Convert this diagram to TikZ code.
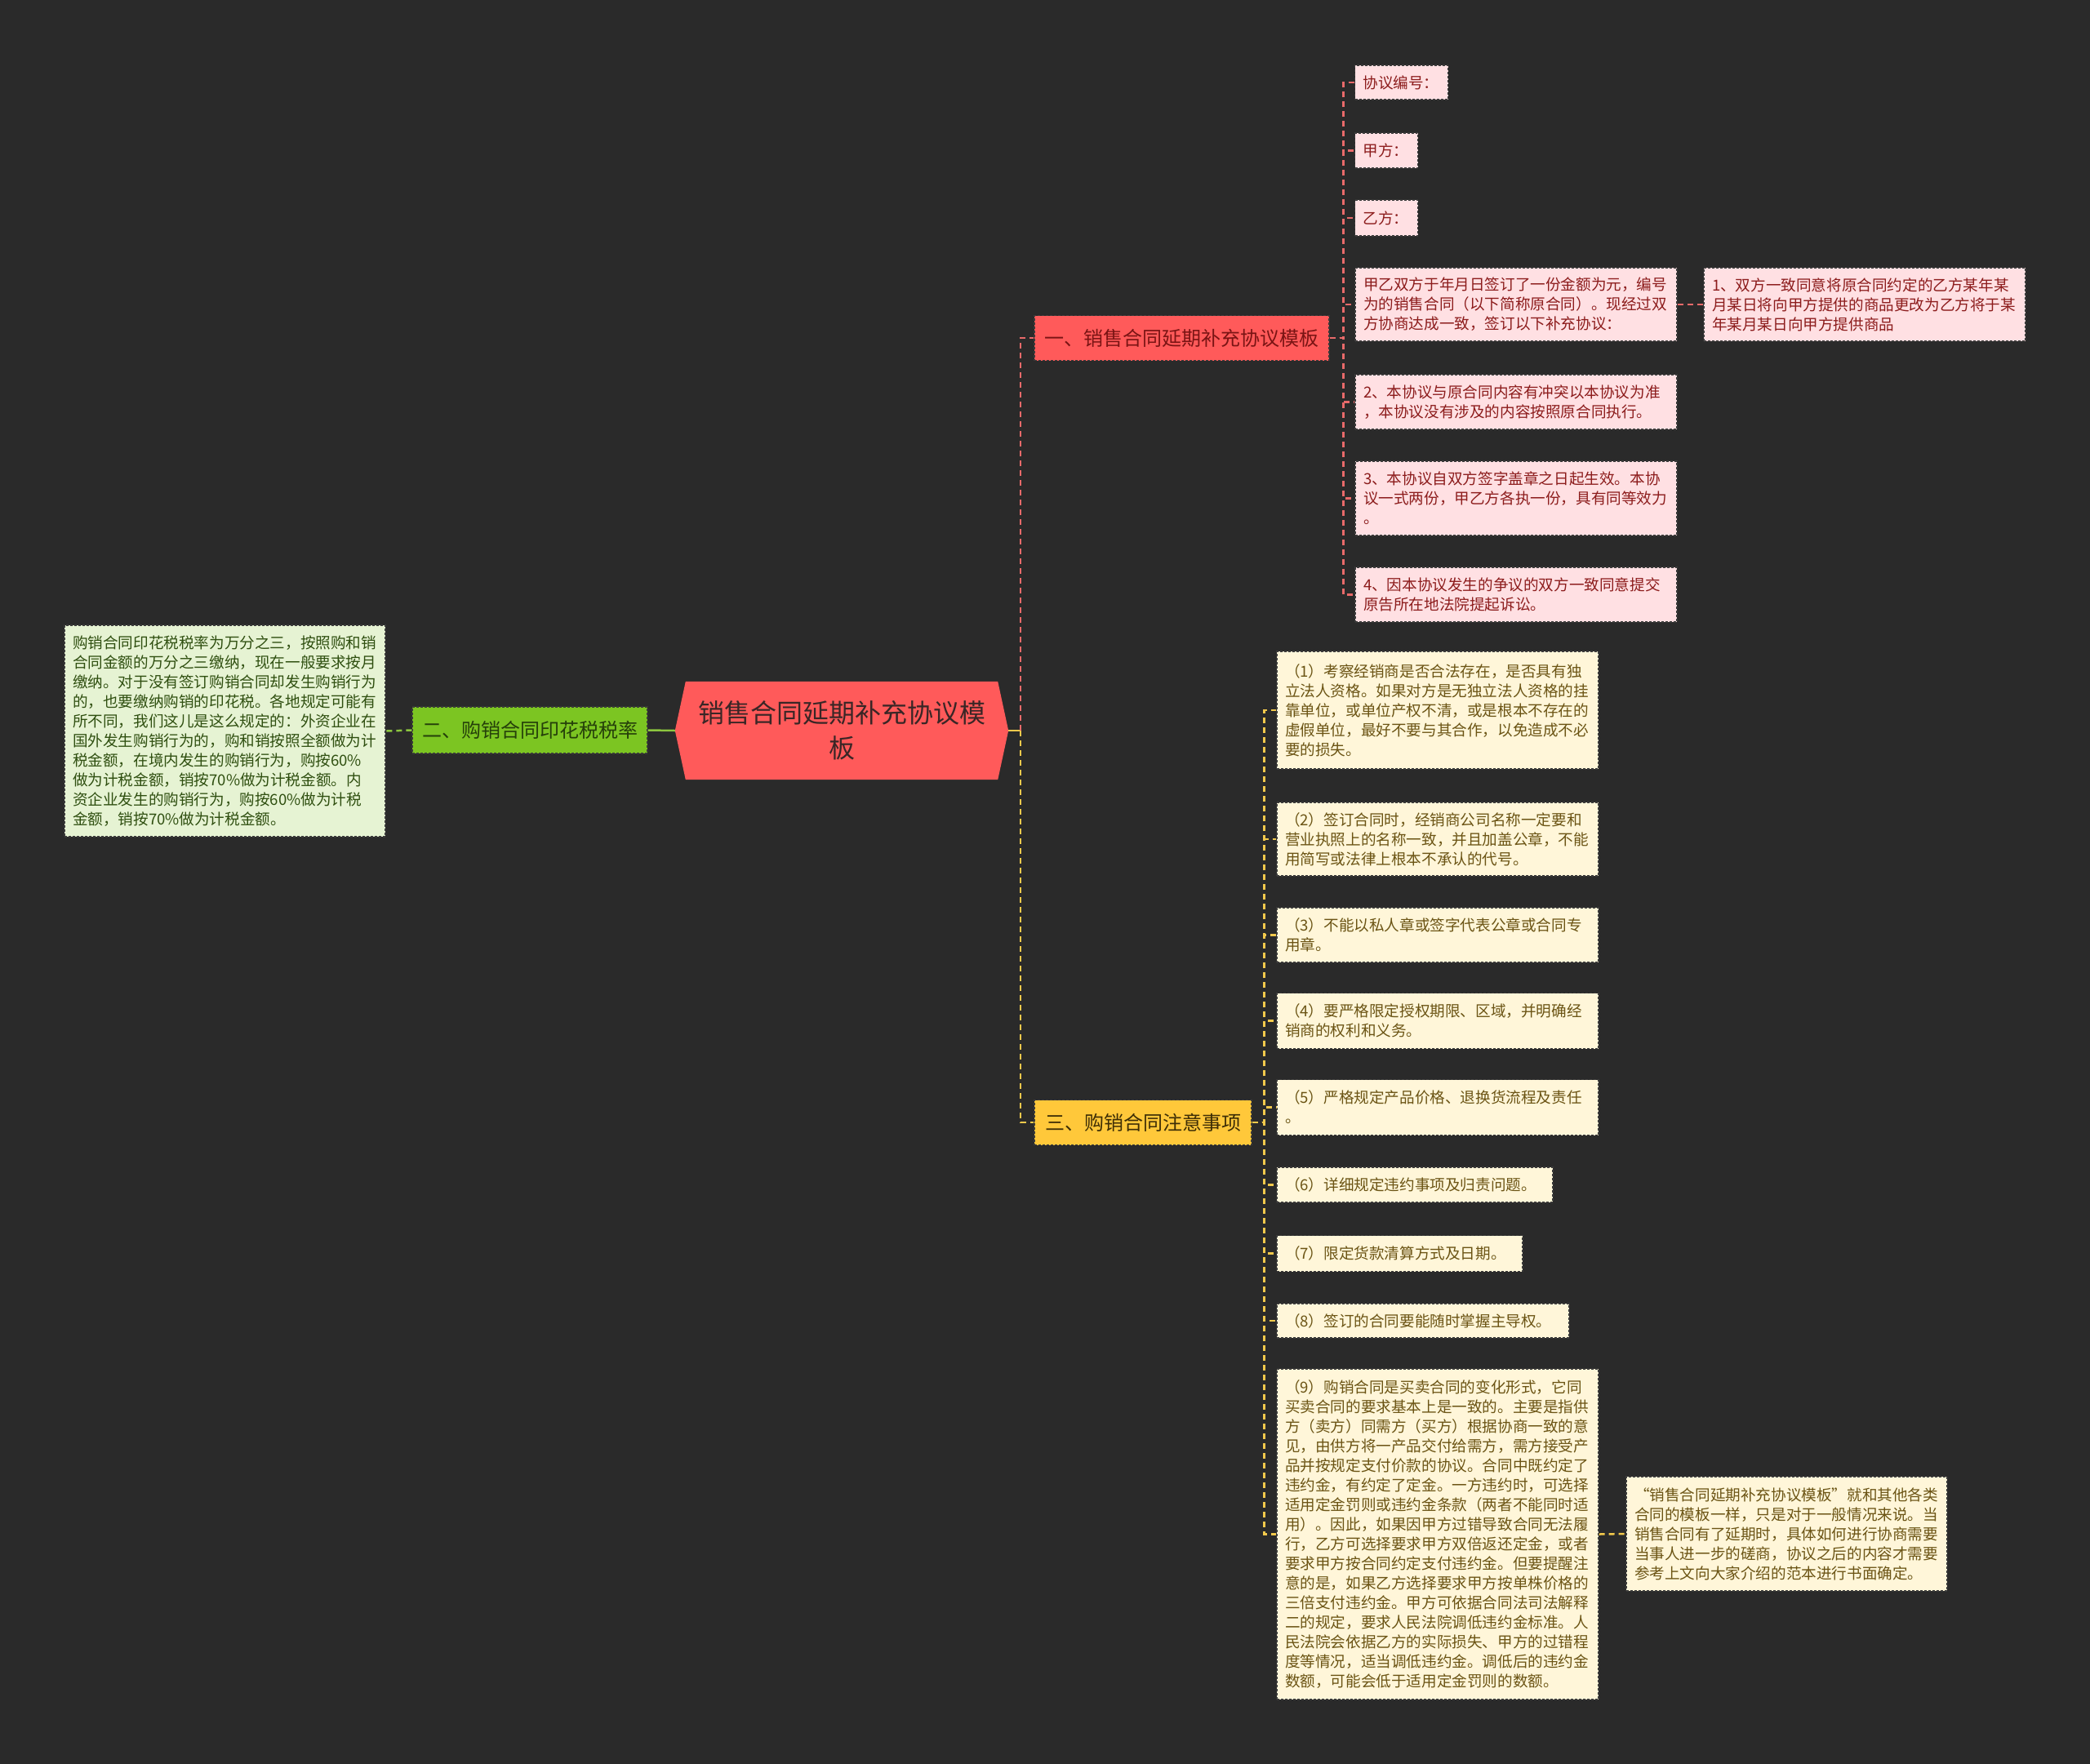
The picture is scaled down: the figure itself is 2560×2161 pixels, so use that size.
\documentclass[tikz,border=0pt]{standalone}
\usepackage{fontspec}
\setmainfont{Noto Sans CJK SC}
\usetikzlibrary{calc}
\definecolor{bg}{HTML}{2A2A2A}
\definecolor{boxline}{HTML}{3A3A3A}
\definecolor{rootfill}{HTML}{FF5A5A}
\definecolor{roottext}{HTML}{3A2626}
\definecolor{redfill}{HTML}{FF5A5A}
\definecolor{redtext}{HTML}{7A1414}
\definecolor{pinkfill}{HTML}{FFE0E3}
\definecolor{pinktext}{HTML}{8C1C1C}
\definecolor{grnfill}{HTML}{7CC522}
\definecolor{grntext}{HTML}{25400A}
\definecolor{lgrnfill}{HTML}{E6F3D3}
\definecolor{lgrntext}{HTML}{2F4F10}
\definecolor{yelfill}{HTML}{FFC83A}
\definecolor{yeltext}{HTML}{3D2E06}
\definecolor{creamfill}{HTML}{FFF6D9}
\definecolor{creamtext}{HTML}{6B5414}
\definecolor{redc}{HTML}{E86A6A}
\definecolor{yelc}{HTML}{F2C94C}
\definecolor{grnc}{HTML}{8DC63F}
\begin{document}
\begin{tikzpicture}[x=1pt,y=-1pt,
  box/.style={rectangle, draw=boxline, line width=1.2pt, dash pattern=on 3pt off 2pt,
    inner xsep=10pt, inner ysep=0pt, align=left},
  leaf/.style={box, font=\fontsize{18.6}{24}\selectfont},
  pinkleaf/.style={leaf, fill=pinkfill, text=pinktext},
  creamleaf/.style={leaf, fill=creamfill, text=creamtext},
  greenleaf/.style={leaf, fill=lgrnfill, text=lgrntext},
  branch/.style={box, inner xsep=12pt, font=\fontsize{24}{30}\selectfont, align=center},
  conn/.style={line width=2.5pt, dash pattern=on 7pt off 5pt},
  redconn/.style={conn, draw=redc},
  yelconn/.style={conn, draw=yelc},
  grnconn/.style={conn, draw=grnc},
]
\useasboundingbox (0,0) rectangle (2560,2161);
\fill[bg] (0,0) rectangle (2560,2161);

% root
\node[minimum width=408pt, minimum height=120pt, inner sep=0pt, align=center,
  text=roottext, font=\fontsize{32}{43}\selectfont] (root) at (1031,895) {};
\fill[rootfill] (root.west) -- ($(root.north west)+(13,0)$) -- ($(root.north east)+(-13,0)$)
  -- (root.east) -- ($(root.south east)+(-13,0)$) -- ($(root.south west)+(13,0)$) -- cycle;
\node[align=center, text=roottext, font=\fontsize{32}{43}\selectfont] at (root.center)
  {销售合同延期补充协议模\\板};

% branches
\node[branch, fill=redfill, text=redtext, minimum width=361pt, minimum height=55pt] (b1) at (1447.5,414) {一、销售合同延期补充协议模板};
\node[branch, fill=grnfill, text=grntext, minimum width=288pt, minimum height=57pt] (b2) at (649,894.5) {二、购销合同印花税税率};
\node[branch, fill=yelfill, text=yeltext, minimum width=266pt, minimum height=55pt] (b3) at (1400,1375) {三、购销合同注意事项};

% green leaf
\node[greenleaf, text width=373pt, minimum height=259pt] (g1) at (275.5,895.5) {购销合同印花税税率为万分之三，按照购和销\\合同金额的万分之三缴纳，现在一般要求按月\\缴纳。对于没有签订购销合同却发生购销行为\\的，也要缴纳购销的印花税。各地规定可能有\\所不同，我们这儿是这么规定的：外资企业在\\国外发生购销行为的，购和销按照全额做为计\\税金额，在境内发生的购销行为，购按60\%\\做为计税金额，销按70\%做为计税金额。内\\资企业发生的购销行为，购按60\%做为计税\\金额，销按70\%做为计税金额。};

% pink leaves
\node[pinkleaf, text width=94pt, minimum height=42pt] (p1) at (1716.5,101) {协议编号：};
\node[pinkleaf, text width=57pt, minimum height=43pt] (p2) at (1698,184.5) {甲方：};
\node[pinkleaf, text width=57pt, minimum height=44pt] (p3) at (1698,267) {乙方：};
\node[pinkleaf, text width=374pt, minimum height=90pt] (p4) at (1857,373) {甲乙双方于年月日签订了一份金额为元，编号\\为的销售合同（以下简称原合同）。现经过双\\方协商达成一致，签订以下补充协议：};
\node[pinkleaf, text width=374pt, minimum height=90pt] (p5) at (2284,373) {1、双方一致同意将原合同约定的乙方某年某\\月某日将向甲方提供的商品更改为乙方将于某\\年某月某日向甲方提供商品};
\node[pinkleaf, text width=374pt, minimum height=67pt] (p6) at (1857,492.5) {2、本协议与原合同内容有冲突以本协议为准\\，本协议没有涉及的内容按照原合同执行。};
\node[pinkleaf, text width=374pt, minimum height=91pt] (p7) at (1857,610.5) {3、本协议自双方签字盖章之日起生效。本协\\议一式两份，甲乙方各执一份，具有同等效力\\。};
\node[pinkleaf, text width=374pt, minimum height=67pt] (p8) at (1857,728.5) {4、因本协议发生的争议的双方一致同意提交\\原告所在地法院提起诉讼。};

% cream leaves
\node[creamleaf, text width=374pt, minimum height=144pt] (y1) at (1761,870) {（1）考察经销商是否合法存在，是否具有独\\立法人资格。如果对方是无独立法人资格的挂\\靠单位，或单位产权不清，或是根本不存在的\\虚假单位，最好不要与其合作，以免造成不必\\要的损失。};
\node[creamleaf, text width=374pt, minimum height=90pt] (y2) at (1761,1028) {（2）签订合同时，经销商公司名称一定要和\\营业执照上的名称一致，并且加盖公章，不能\\用简写或法律上根本不承认的代号。};
\node[creamleaf, text width=374pt, minimum height=67pt] (y3) at (1761,1145.5) {（3）不能以私人章或签字代表公章或合同专\\用章。};
\node[creamleaf, text width=374pt, minimum height=68pt] (y4) at (1761,1250.5) {（4）要严格限定授权期限、区域，并明确经\\销商的权利和义务。};
\node[creamleaf, text width=374pt, minimum height=68pt] (y5) at (1761,1356.5) {（5）严格规定产品价格、退换货流程及责任\\。};
\node[creamleaf, text width=318pt, minimum height=43pt] (y6) at (1733,1451.5) {（6）详细规定违约事项及归责问题。};
\node[creamleaf, text width=281pt, minimum height=44pt] (y7) at (1714.5,1535.5) {（7）限定货款清算方式及日期。};
\node[creamleaf, text width=338pt, minimum height=42pt] (y8) at (1743,1618) {（8）签订的合同要能随时掌握主导权。};
\node[creamleaf, text width=374pt, minimum height=405pt] (y9) at (1761,1879.5) {（9）购销合同是买卖合同的变化形式，它同\\买卖合同的要求基本上是一致的。主要是指供\\方（卖方）同需方（买方）根据协商一致的意\\见，由供方将一产品交付给需方，需方接受产\\品并按规定支付价款的协议。合同中既约定了\\违约金，有约定了定金。一方违约时，可选择\\适用定金罚则或违约金条款（两者不能同时适\\用）。因此，如果因甲方过错导致合同无法履\\行，乙方可选择要求甲方双倍返还定金，或者\\要求甲方按合同约定支付违约金。但要提醒注\\意的是，如果乙方选择要求甲方按单株价格的\\三倍支付违约金。甲方可依据合同法司法解释\\二的规定，要求人民法院调低违约金标准。人\\民法院会依据乙方的实际损失、甲方的过错程\\度等情况，适当调低违约金。调低后的违约金\\数额，可能会低于适用定金罚则的数额。};
\node[creamleaf, text width=373pt, minimum height=140pt] (yf) at (2188.5,1879) {“销售合同延期补充协议模板”就和其他各类\\合同的模板一样，只是对于一般情况来说。当\\销售合同有了延期时，具体如何进行协商需要\\当事人进一步的磋商，协议之后的内容才需要\\参考上文向大家介绍的范本进行书面确定。};

% connectors
\coordinate (j1) at (1250,895);
\draw[line width=2.5pt, yelc] (root.east) -- (j1);
\draw[redconn] (j1) |- (b1.west);
\draw[yelconn] (j1) |- (b3.west);
\draw[line width=2.5pt, grnc] (root.west) -- (b2.east);
\draw[grnconn] (b2.west) -- (g1.east);
\foreach \n in {p1,p2,p3,p4,p6,p7,p8}{
  \draw[redconn] (b1.east) -- ++(17,0) |- (\n.west);
}
\draw[redconn] (p4.east) -- (p5.west);
\foreach \n in {y1,y2,y3,y4,y5,y6,y7,y8,y9}{
  \draw[yelconn] (b3.east) -- ++(15,0) |- (\n.west);
}
\draw[yelconn] (y9.east) -- (yf.west);
\end{tikzpicture}
\end{document}
